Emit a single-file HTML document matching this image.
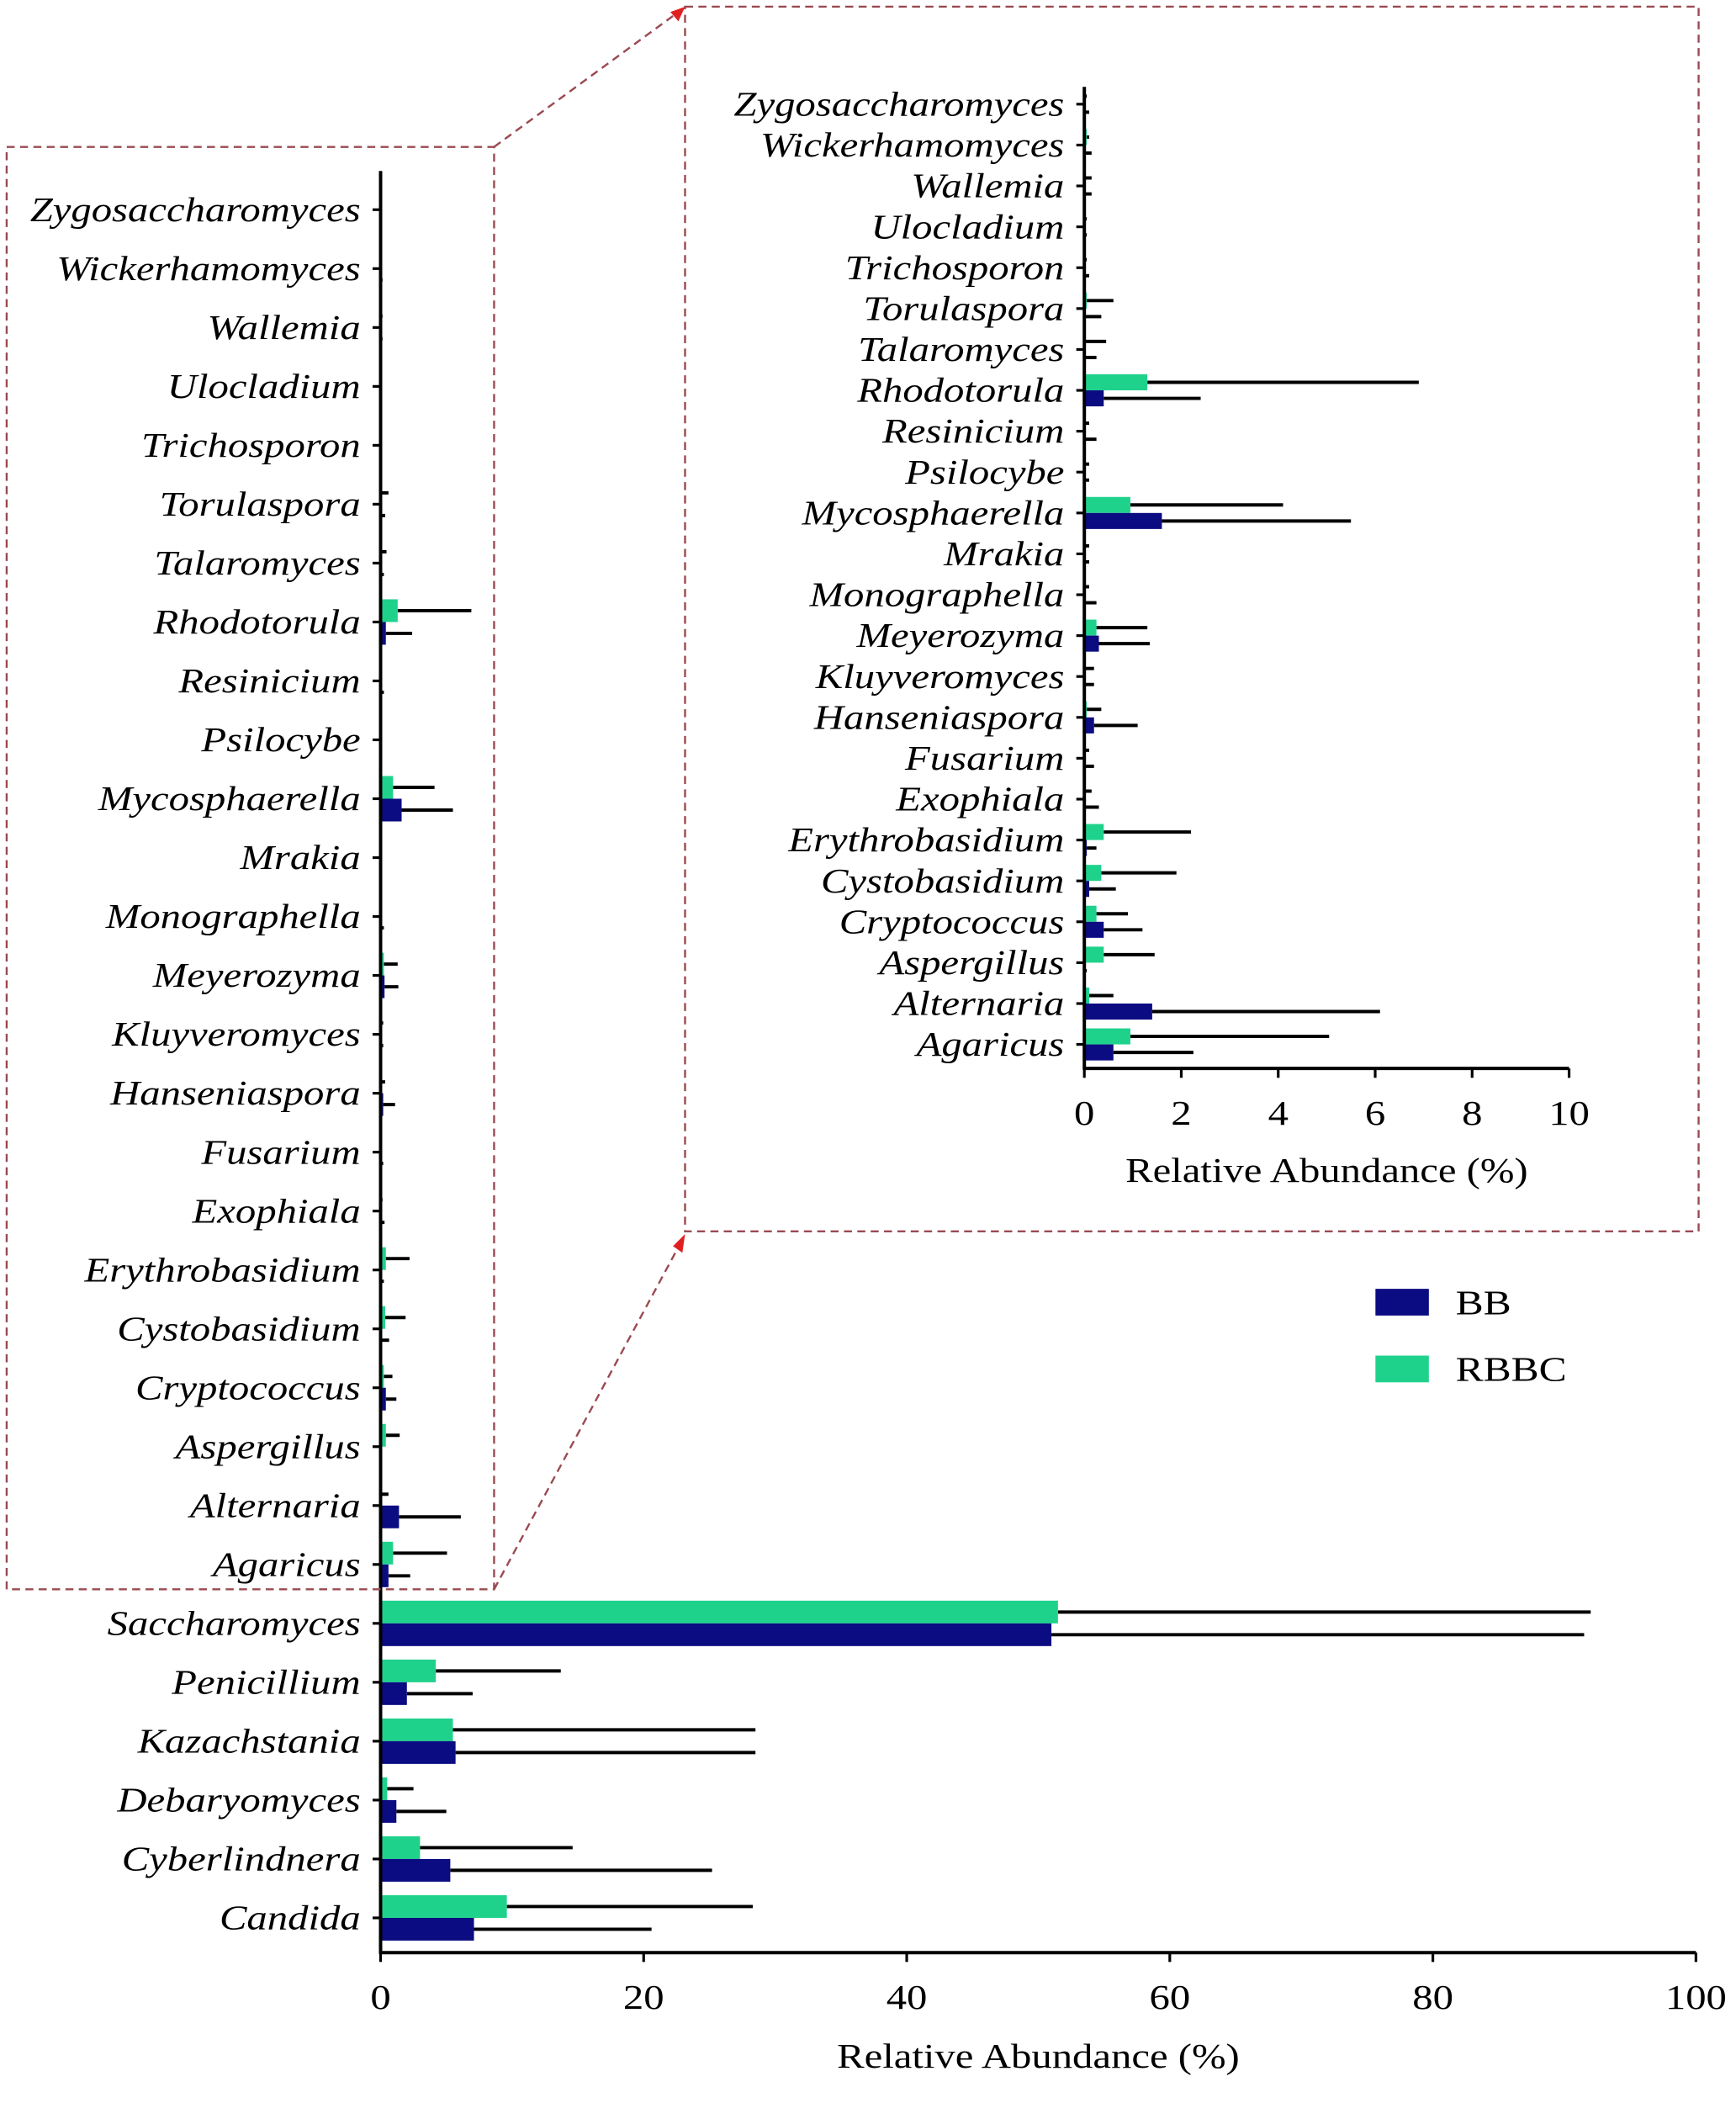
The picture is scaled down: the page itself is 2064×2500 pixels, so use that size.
<!DOCTYPE html>
<html><head><meta charset="utf-8"><style>
html,body{margin:0;padding:0;background:#fff;}
svg{display:block;}
text{font-family:"Liberation Serif",serif;fill:#000;}
</style></head><body>
<svg id="chart" width="2064" height="2500" viewBox="0 0 1300 1574.6" preserveAspectRatio="none" xmlns="http://www.w3.org/2000/svg">
<g id="main"></g>
<g id="inset"></g>
<g fill="none" stroke="#9a4a52" stroke-width="1.5" stroke-dasharray="6,4">
<rect x="5" y="110" width="365" height="1080"/>
<rect x="513" y="5" width="759" height="917"/>
<line x1="370" y1="110" x2="508" y2="9"/>
<line x1="370" y1="1190" x2="510" y2="930"/>
</g>
<polygon points="513,5 502,9 508,16" fill="#e02020"/>
<polygon points="513,924 504,933 511,938" fill="#e02020"/>
<g>
<rect x="1030" y="965" width="40" height="20" fill="#0b0b82"/>
<text transform="translate(1090,984) scale(1.2,1)" font-size="26">BB</text>
<rect x="1030" y="1015" width="40" height="20" fill="#1fd28c"/>
<text transform="translate(1090,1034) scale(1.2,1)" font-size="26">RBBC</text>
</g>
</svg>
<script>
const categories = ["Zygosaccharomyces","Wickerhamomyces","Wallemia","Ulocladium","Trichosporon","Torulaspora","Talaromyces","Rhodotorula","Resinicium","Psilocybe","Mycosphaerella","Mrakia","Monographella","Meyerozyma","Kluyveromyces","Hanseniaspora","Fusarium","Exophiala","Erythrobasidium","Cystobasidium","Cryptococcus","Aspergillus","Alternaria","Agaricus","Saccharomyces","Penicillium","Kazachstania","Debaryomyces","Cyberlindnera","Candida"];
const bbValues   = [0,0,0,0,0,0,0,0.4,0,0,1.6,0,0,0.3,0,0.2,0,0,0.05,0.1,0.4,0,1.4,0.6,51,2,5.7,1.2,5.3,7.1];
const bbErrEnd   = [0.1,0.15,0.15,0.05,0.1,0.35,0.25,2.4,0.25,0.1,5.5,0.1,0.25,1.35,0.2,1.1,0.2,0.3,0.25,0.65,1.2,0.05,6.1,2.25,91.5,7,28.5,5,25.2,20.6];
const rbbcValues = [0,0.05,0,0,0,0.05,0,1.3,0,0,0.95,0,0,0.25,0,0.05,0,0,0.4,0.35,0.25,0.4,0.1,0.95,51.5,4.2,5.5,0.5,3,9.6];
const rbbcErrEnd = [0.05,0.1,0.15,0.05,0.05,0.6,0.45,6.9,0.1,0.1,4.1,0.1,0.1,1.3,0.2,0.35,0.1,0.15,2.2,1.9,0.9,1.45,0.6,5.05,92,13.7,28.5,2.5,14.6,28.3];
const mainTicks = [0,20,40,60,80,100];
const insetTicks = [0,2,4,6,8,10];
const insetCount = 24;

const NS="http://www.w3.org/2000/svg";
const SX=1.18;
function mk(parent,tag,attrs){const e=document.createElementNS(NS,tag);for(const k in attrs)e.setAttribute(k,attrs[k]);parent.appendChild(e);return e;}
function txt(parent,x,y,attrs){return mk(parent,'text',Object.assign({transform:`translate(${x},${y}) scale(${SX},1)`},attrs));}

function drawChart(g, o){
  const xs=v=>o.x0+(v-o.min)/(o.max-o.min)*(o.x1-o.x0);
  const n=o.n;
  const ys=i=>o.yTop+i*(o.yBot-o.yTop)/(n-1);
  for(let i=0;i<n;i++){
    const y=ys(i);
    const lab=txt(g,o.x0-15,y+o.fs*0.33,{'font-size':o.fs,'font-style':'italic','text-anchor':'end'});
    lab.textContent=categories[i];
    
    
    const tk=mk(g,'line',{x1:o.x0-6,x2:o.x0,y1:y,y2:y,stroke:'#000','stroke-width':2});
    
    
    const h=o.bh;
    const series=[[rbbcValues,rbbcErrEnd,'#1fd28c',y-h,'bar-rbbc','error-bar-rbbc'],[bbValues,bbErrEnd,'#0b0b82',y,'bar-bb','error-bar-bb']];
    for(const s of series){
      const v=Math.min(s[0][i],o.max), e=Math.min(s[1][i],o.max);
      const ey=s[3]+h/2;
      const eb=mk(g,'line',{x1:xs(v),x2:xs(e),y1:ey,y2:ey,stroke:'#000','stroke-width':2.5});
      
      
      const r=mk(g,'rect',{x:o.x0,y:s[3],width:Math.max(0,xs(v)-o.x0),height:h,fill:s[2]});
      
      
    }
  }
  const ya=mk(g,'line',{x1:o.x0,x2:o.x0,y1:o.axTop,y2:o.axY+1,stroke:'#000','stroke-width':2.5});
  
  
  const xa=mk(g,'line',{x1:o.x0-1,x2:o.x1,y1:o.axY,y2:o.axY,stroke:'#000','stroke-width':2.5});
  
  
  for(const t of o.ticks){
    const tl=mk(g,'line',{x1:xs(t),x2:xs(t),y1:o.axY,y2:o.axY+7,stroke:'#000','stroke-width':2});
    
    
    const tt=txt(g,xs(t),o.axY+o.tickDy,{'font-size':o.fs,'text-anchor':'middle'});
    tt.textContent=t;
    
    
  }
  const ttl=txt(g,(o.x0+o.x1)/2,o.axY+o.titleDy,{'font-size':o.fs,'text-anchor':'middle'});
  ttl.textContent='Relative Abundance (%)';
  
  
}
drawChart(document.getElementById('main'),{x0:285,x1:1270,min:0,max:100,n:categories.length,yTop:157,yBot:1436,bh:17,axTop:128,axY:1462,ticks:mainTicks,fs:26,tickDy:42,titleDy:86});
drawChart(document.getElementById('inset'),{x0:812,x1:1175,min:0,max:10,n:insetCount,yTop:78,yBot:782,bh:12,axTop:65,axY:800,ticks:insetTicks,fs:26,tickDy:42,titleDy:85});
</script>
</body></html>
